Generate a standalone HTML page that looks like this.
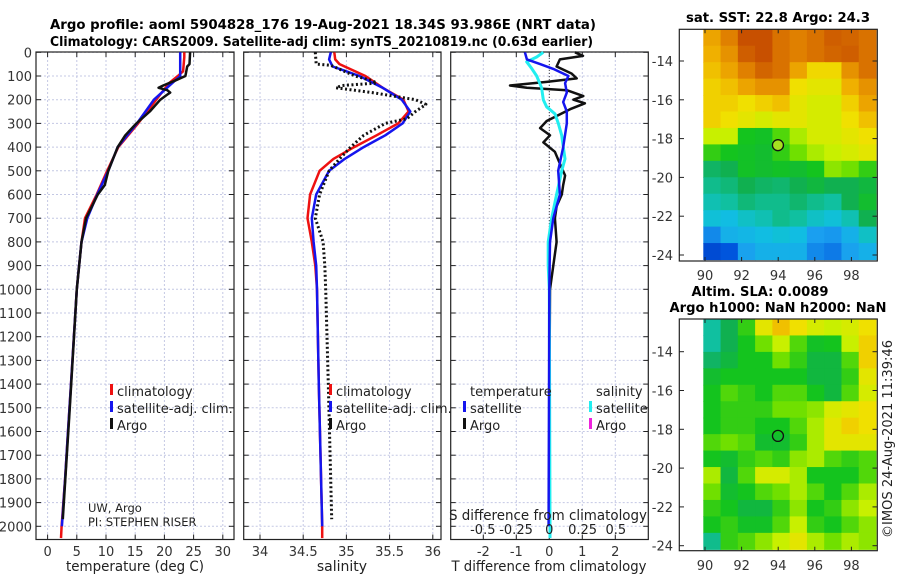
<!DOCTYPE html>
<html><head><meta charset="utf-8"><style>
html,body{margin:0;padding:0;background:#fff;}
svg{display:block;font-family:"DejaVu Sans","Liberation Sans",sans-serif;}
</style></head><body>
<svg id="chart" width="900" height="580" viewBox="0 0 900 580" xmlns="http://www.w3.org/2000/svg">
<text x="50" y="29" font-size="13.5" font-weight="bold" textLength="546" lengthAdjust="spacingAndGlyphs">Argo profile: aoml 5904828_176 19-Aug-2021 18.34S 93.986E (NRT data)</text>
<text x="50" y="46" font-size="13.5" font-weight="bold" textLength="543" lengthAdjust="spacingAndGlyphs">Climatology: CARS2009. Satellite-adj clim: synTS_20210819.nc (0.63d earlier)</text>
<g id="g"></g>
<text x="778" y="22" font-size="13.5" font-weight="bold" text-anchor="middle" textLength="184" lengthAdjust="spacingAndGlyphs">sat. SST: 22.8 Argo: 24.3</text>
<text x="760" y="296" font-size="13.5" font-weight="bold" text-anchor="middle" textLength="137" lengthAdjust="spacingAndGlyphs">Altim. SLA: 0.0089</text>
<text x="778" y="312" font-size="13.5" font-weight="bold" text-anchor="middle" textLength="217" lengthAdjust="spacingAndGlyphs">Argo h1000: NaN h2000: NaN</text>
<text transform="translate(892,439) rotate(-90)" font-size="13" text-anchor="middle" fill="#222" textLength="198" lengthAdjust="spacingAndGlyphs">©IMOS 24-Aug-2021 11:39:46</text>
</svg>
<script>
// ---- data ----
const depthTicks=[0,100,200,300,400,500,600,700,800,900,1000,1100,1200,1300,1400,1500,1600,1700,1800,1900,2000];
const tempTicks=[0,5,10,15,20,25,30];
const salTicks=[34,34.5,35,35.5,36];
const salTickLabels=["34","34.5","35","35.5","36"];
const dtTicks=[-2,-1,0,1,2];
const dsTicks=[-0.5,-0.25,0,0.25,0.5];
const dsTickLabels=["-0.5","-0.25","0","0.25","0.5"];

const tClimDepth=[0,20,80,100,130,200,300,400,500,600,700,800,900,1000,1200,1400,1600,1800,2000,2050];
const tClimVal=[23.4,23.4,23.2,22.3,20.8,18.6,15.5,12.1,10.2,8.4,6.4,5.8,5.4,5.0,4.5,4.0,3.5,3.0,2.4,2.3];
const tSatDepth=[0,100,120,200,300,400,500,600,700,800,900,1000,1200,1400,1600,1800,2000];
const tSatVal=[22.7,22.7,21.8,18.2,15.3,12.0,10.4,8.5,6.8,5.8,5.4,5.0,4.5,4.0,3.5,3.0,2.45];
const tArgoDepth=[0,50,60,100,120,140,150,160,170,180,200,250,300,350,400,500,560,600,700,800,1000,1500,1970];
const tArgoVal=[24.4,24.3,23.9,23.6,21.8,19.8,19.0,20.5,21.0,20.4,19.3,17.5,15.2,13.3,12.0,10.4,9.8,8.6,6.6,5.8,5.0,3.8,2.6];

const sClimDepth=[0,30,50,80,100,150,200,250,300,350,400,450,500,600,700,800,900,1000,1400,2000,2050];
const sClimVal=[34.86,34.87,34.92,35.1,35.22,35.42,35.66,35.72,35.6,35.35,35.09,34.85,34.69,34.58,34.55,34.6,34.64,34.66,34.68,34.72,34.72];
const sSatDepth=[0,30,60,80,100,150,200,250,300,350,400,450,500,600,700,800,900,1000,1400,2000];
const sSatVal=[34.82,34.8,34.84,35.0,35.15,35.42,35.64,35.74,35.65,35.45,35.2,34.98,34.8,34.65,34.6,34.62,34.65,34.66,34.68,34.72];
const sArgoDepth=[0,50,55,100,120,130,140,150,170,200,220,250,280,300,350,400,450,500,600,700,800,900,1000,1400,1970];
const sArgoVal=[34.64,34.65,34.82,35.1,35.3,35.35,34.95,34.88,35.3,35.8,35.92,35.8,35.7,35.45,35.2,35.05,34.92,34.8,34.69,34.64,34.73,34.75,34.76,34.79,34.83];

const dtSatDepth=[0,30,50,70,100,130,170,210,250,300,400,500,600,700,800,1000,2000];
const dtSatVal=[-0.74,-0.68,-0.28,0.12,0.58,0.48,0.53,0.42,0.53,0.53,0.42,0.27,0.32,0.12,0.02,0,-0.02];
const dtArgoDepth=[0,15,30,60,90,110,125,140,150,160,185,200,215,240,290,320,350,380,420,470,520,560,600,650,700,800,900,1000,1500,1970];
const dtArgoVal=[0.78,1.02,0.32,0.22,0.68,0.83,-0.08,-1.19,-0.68,0.53,1.03,0.73,1.08,0.63,-0.08,-0.28,0.02,-0.18,0.17,0.32,0.48,0.42,0.38,0.22,0.17,0.22,0.12,0.02,0.0,0.0];
const dsSatDepth=[0,20,40,70,100,150,200,230,260,300,350,400,450,500,600,700,800,900,1000,2000,2050];
const dsSatVal=[-0.045,-0.095,-0.17,-0.13,-0.095,-0.058,-0.045,-0.02,0.043,0.068,0.093,0.105,0.118,0.093,0.055,0.018,-0.008,-0.008,0,0.005,0.005];

const mapLons=[90,92,94,96,98];
const mapLats=[-14,-16,-18,-20,-22,-24];
const argoLon=93.986, argoLat=-18.34;
const sstGrid=[
[0.82,0.88,0.95,0.95,0.9,0.88,0.9,0.93,0.92,0.9],
[0.8,0.85,0.93,0.95,0.9,0.88,0.9,0.92,0.93,0.9],
[0.78,0.82,0.88,0.92,0.9,0.82,0.75,0.75,0.85,0.9],
[0.76,0.78,0.82,0.85,0.85,0.74,0.72,0.72,0.8,0.85],
[0.76,0.76,0.74,0.76,0.78,0.72,0.7,0.7,0.76,0.82],
[0.76,0.74,0.72,0.7,0.72,0.72,0.7,0.7,0.74,0.78],
[0.68,0.68,0.56,0.55,0.6,0.66,0.7,0.7,0.72,0.74],
[0.58,0.56,0.55,0.54,0.58,0.62,0.66,0.68,0.7,0.72],
[0.48,0.5,0.55,0.54,0.55,0.54,0.56,0.64,0.62,0.58],
[0.44,0.46,0.5,0.48,0.47,0.5,0.52,0.5,0.5,0.52],
[0.4,0.42,0.46,0.44,0.44,0.47,0.44,0.42,0.5,0.54],
[0.36,0.34,0.38,0.4,0.44,0.42,0.38,0.36,0.4,0.5],
[0.22,0.3,0.32,0.34,0.36,0.34,0.25,0.24,0.3,0.38],
[0.12,0.15,0.26,0.3,0.3,0.3,0.22,0.2,0.26,0.3]];
const slaGrid=[
[0.42,0.5,0.58,0.72,0.78,0.74,0.7,0.68,0.7,0.74],
[0.42,0.5,0.56,0.62,0.68,0.6,0.55,0.56,0.68,0.76],
[0.48,0.52,0.56,0.56,0.62,0.58,0.52,0.52,0.6,0.76],
[0.54,0.56,0.56,0.56,0.56,0.56,0.52,0.52,0.58,0.72],
[0.56,0.6,0.58,0.56,0.6,0.6,0.56,0.52,0.6,0.7],
[0.56,0.58,0.58,0.58,0.62,0.62,0.64,0.7,0.72,0.74],
[0.56,0.58,0.58,0.56,0.56,0.6,0.66,0.72,0.76,0.74],
[0.6,0.62,0.6,0.54,0.54,0.58,0.66,0.72,0.72,0.72],
[0.56,0.54,0.58,0.6,0.58,0.64,0.66,0.6,0.58,0.6],
[0.66,0.52,0.6,0.7,0.7,0.66,0.56,0.56,0.56,0.6],
[0.62,0.54,0.56,0.6,0.62,0.66,0.6,0.56,0.6,0.66],
[0.58,0.56,0.52,0.52,0.58,0.64,0.56,0.58,0.64,0.68],
[0.56,0.58,0.55,0.55,0.6,0.68,0.58,0.56,0.6,0.64],
[0.44,0.58,0.6,0.64,0.68,0.72,0.66,0.62,0.66,0.64]];

// ---- helpers ----
const NS="http://www.w3.org/2000/svg";
const G=document.getElementById('g');
function mk(tag,attrs,parent,txt){const e=document.createElementNS(NS,tag);for(const k in attrs)e.setAttribute(k,attrs[k]);if(txt!==undefined)e.textContent=txt;(parent||G).appendChild(e);return e;}
const yD=d=>52.3+d*0.237;
const PT={l:36,r:234}, PS={l:243.7,r:441}, PD={l:450.7,r:648.3};
const pTop=52, pBot=539.5;
const xT=t=>47.6+t*5.84, xS=s=>260+(s-34)*86.4, xDT=v=>549.3+v*33, xDS=v=>549.3+v*133;

function panel(name,p,xTicks,xf,labels){
  const g=mk('g',{});
  
  
  depthTicks.forEach(d=>{const l=mk('line',{x1:p.l,x2:p.r,y1:yD(d),y2:yD(d),stroke:'#c4c8e4','stroke-width':1,'stroke-dasharray':'2,2'},g);
    
    mk('line',{x1:p.l,x2:p.l+5,y1:yD(d),y2:yD(d),stroke:'#222'},g);mk('line',{x1:p.r-5,x2:p.r,y1:yD(d),y2:yD(d),stroke:'#222'},g);});
  xTicks.forEach((v,i)=>{const x=xf(v);const l=mk('line',{x1:x,x2:x,y1:pTop,y2:pBot,stroke:'#c4c8e4','stroke-width':1,'stroke-dasharray':'2,2'},g);
    
    mk('line',{x1:x,x2:x,y1:pTop,y2:pTop+5,stroke:'#222'},g);mk('line',{x1:x,x2:x,y1:pBot-5,y2:pBot,stroke:'#222'},g);
    const t=mk('text',{x:x,y:556,'font-size':13,'text-anchor':'middle',fill:'#333'},g,labels?labels[i]:String(v));
    });
  mk('rect',{x:p.l,y:pTop,width:p.r-p.l,height:pBot-pTop,fill:'none',stroke:'#222','stroke-width':1.2},g);
  return g;
}
function line(name,dep,val,xf,color,w,dash){
  const pts=dep.map((d,i)=>xf(val[i]).toFixed(1)+','+yD(d).toFixed(1)).join(' ');
  const e=mk('polyline',{points:pts,fill:'none',stroke:color,'stroke-width':w,'stroke-linejoin':'round'});
  if(dash)e.setAttribute('stroke-dasharray',dash);
  
  
  return e;
}
function legend(x,y,color,label,name){
  mk('rect',{x:x,y:y-7,width:3,height:11,fill:color});
  const t=mk('text',{x:x+7,y:y+5,'font-size':13,fill:'#222'},G,label);
  
  
}
function txt(x,y,s,str,name,anchor,len){const t=mk('text',{x:x,y:y,'font-size':s,fill:'#222','text-anchor':anchor||'start'},G,str);
  if(len){t.setAttribute('textLength',len);t.setAttribute('lengthAdjust','spacingAndGlyphs');}
  return t;}

// depth labels
depthTicks.forEach(d=>{const t=mk('text',{x:32,y:yD(d)+5,'font-size':13,'text-anchor':'end',fill:'#333'},G,String(d));
  });

// panel 1 temperature
panel('temperature-panel',PT,tempTicks,xT);
line('temperature-climatology',tClimDepth,tClimVal,xT,'#ee1111',2.5);
line('temperature-satellite-adj',tSatDepth,tSatVal,xT,'#1515ee',2.5);
line('temperature-argo',tArgoDepth,tArgoVal,xT,'#111',2.5);
txt(135,571,14,'temperature (deg C)','temperature-axis-title','middle',138);
legend(110,391,'#ee1111','climatology','legend-climatology');
legend(110,408,'#1515ee','satellite-adj. clim.','legend-satellite-adj');
legend(110,425,'#111','Argo','legend-argo');
txt(88,512,11.5,'UW, Argo','institution-label');
txt(88,526,11.5,'PI: STEPHEN RISER','pi-label');

// panel 2 salinity
panel('salinity-panel',PS,salTicks,xS,salTickLabels);
line('salinity-climatology',sClimDepth,sClimVal,xS,'#ee1111',2.5);
line('salinity-satellite-adj',sSatDepth,sSatVal,xS,'#1515ee',2.5);
line('salinity-argo',sArgoDepth,sArgoVal,xS,'#111',3,'2,2.5');
txt(342,571,14,'salinity','salinity-axis-title','middle');
legend(329,391,'#ee1111','climatology','legend-climatology-2');
legend(329,408,'#1515ee','satellite-adj. clim.','legend-satellite-adj-2');
legend(329,425,'#111','Argo','legend-argo-2');

// panel 3 differences
panel('difference-panel',PD,dtTicks,xDT);
mk('line',{x1:xDT(0),x2:xDT(0),y1:pTop,y2:pBot,stroke:'#444','stroke-width':1,'stroke-dasharray':'1,2'});
line('temperature-diff-argo',dtArgoDepth,dtArgoVal,xDT,'#111',2.5);
line('salinity-diff-satellite',dsSatDepth,dsSatVal,xDS,'#22eef0',3);
line('temperature-diff-satellite',dtSatDepth,dtSatVal,xDT,'#1515ee',2.5);
txt(549,571,14,'T difference from climatology','t-diff-axis-title','middle',195);
txt(548,520,14,'S difference from climatology','s-diff-axis-title','middle',198);
dsTicks.forEach((v,i)=>{const t=mk('text',{x:xDS(v),y:534,'font-size':13,'text-anchor':'middle',fill:'#222'},G,dsTickLabels[i]);
  });
txt(470,396,13,'temperature','legend-temperature-header');
txt(596,396,13,'salinity','legend-salinity-header');
legend(463,408,'#1515ee','satellite','legend-t-satellite');
legend(463,425,'#111','Argo','legend-t-argo');
legend(589,408,'#22eef0','satellite','legend-s-satellite');
legend(589,425,'#ee22dd','Argo','legend-s-argo');

// ---- maps ----
const stops=[[0,[0,34,170]],[0.15,[0,85,221]],[0.25,[26,159,240]],[0.35,[16,192,224]],[0.42,[16,192,160]],[0.5,[16,176,80]],[0.56,[20,196,30]],[0.62,[112,224,0]],[0.68,[200,240,0]],[0.74,[240,224,0]],[0.8,[240,176,0]],[0.88,[224,128,0]],[0.95,[200,80,0]],[1,[168,48,0]]];
function cmap(v){for(let i=1;i<stops.length;i++){if(v<=stops[i][0]){const a=stops[i-1],b=stops[i];const f=(v-a[0])/(b[0]-a[0]);const c=a[1].map((x,k)=>Math.round(x+(b[1][k]-x)*f));return `rgb(${c[0]},${c[1]},${c[2]})`;}}return 'rgb(168,48,0)';}
function map(name,grid,frame,imgTop,imgBot,lat14y,lat24y,labelY){
  const lonX=lo=>705+(lo-90)*18.3;
  const latY=la=>lat14y+(-14-la)*(lat24y-lat14y)/10;
  const g=mk('g',{});
  
  
  const x0=703.3,x1=876,rows=grid.length,cols=grid[0].length;
  const cw=(x1-x0)/cols,ch=(imgBot-imgTop)/rows;
  grid.forEach((row,r)=>row.forEach((v,c)=>{const e=mk('rect',{x:(x0+c*cw).toFixed(2),y:(imgTop+r*ch).toFixed(2),width:(cw+0.6).toFixed(2),height:(ch+0.6).toFixed(2),fill:cmap(v)},g);
    }));
  mk('rect',{x:679.3,y:frame[0],width:198,height:frame[1]-frame[0],fill:'none',stroke:'#222','stroke-width':1.2},g);
  mapLats.forEach(la=>{const y=latY(la);mk('line',{x1:679.3,x2:684,y1:y,y2:y,stroke:'#222'},g);mk('line',{x1:872.5,x2:877.3,y1:y,y2:y,stroke:'#222'},g);
    const t=mk('text',{x:673,y:y+5,'font-size':13,'text-anchor':'end',fill:'#333'},G,String(la));
    });
  mapLons.forEach(lo=>{const x=lonX(lo);mk('line',{x1:x,x2:x,y1:frame[0],y2:frame[0]+4,stroke:'#222'},g);mk('line',{x1:x,x2:x,y1:frame[1]-4,y2:frame[1],stroke:'#222'},g);
    const t=mk('text',{x:x,y:labelY,'font-size':13,'text-anchor':'middle',fill:'#333'},G,String(lo));
    });
  return {lonX,latY};
}
const m1=map('sst-map',sstGrid,[29.3,261],29.3,259.5,61,255,280);
const c1=mk('circle',{cx:m1.lonX(argoLon),cy:m1.latY(argoLat),r:5.5,fill:'#a8e020',stroke:'#111','stroke-width':1.3});


const m2=map('sla-map',slaGrid,[319,550.7],319,549.3,351.7,545.7,570);
const c2=mk('circle',{cx:m2.lonX(argoLon),cy:m2.latY(argoLat),r:5.5,fill:'none',stroke:'#111','stroke-width':1.3});


</script>
</body></html>
